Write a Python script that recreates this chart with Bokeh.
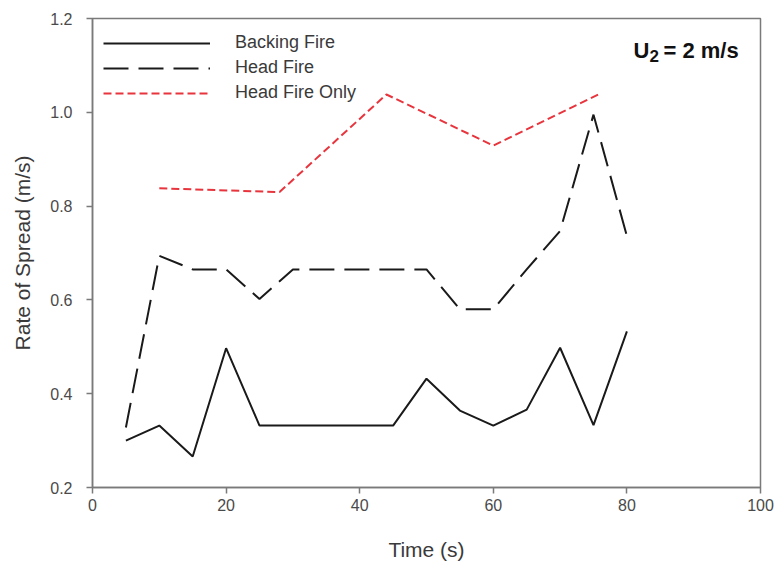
from bokeh.plotting import figure
from bokeh.models import Legend, LegendItem, Label, Range1d, FixedTicker
from bokeh.embed import file_html
from bokeh.resources import INLINE

# Data
backing_t = [5, 10, 15, 20, 25, 30, 35, 40, 45, 50, 55, 60, 65, 70, 75, 80]
backing_r = [0.30, 0.332, 0.266, 0.497, 0.332, 0.332, 0.332, 0.332, 0.332, 0.432, 0.364, 0.332, 0.366, 0.498, 0.333, 0.533]

head_t = [5, 10, 15, 20, 25, 30, 35, 40, 45, 50, 55, 60, 65, 70, 75, 80]
head_r = [0.328, 0.694, 0.665, 0.665, 0.602, 0.665, 0.665, 0.665, 0.665, 0.665, 0.58, 0.58, 0.665, 0.747, 0.995, 0.736]

only_t = [10, 28, 44, 60, 76]
only_r = [0.838, 0.83, 1.038, 0.929, 1.04]

x_ticks = [0, 20, 40, 60, 80, 100]
y_ticks = [0.2, 0.4, 0.6, 0.8, 1.0, 1.2]

FONT = "Liberation Sans"
GRAY = "#7a7a7a"
TXT = "#3a3a3a"

p = figure(width=777, height=567, output_backend="svg", toolbar_location=None,
           x_range=Range1d(0, 100), y_range=Range1d(0.2, 1.2),
           min_border_left=92, min_border_right=17, min_border_top=18, min_border_bottom=80)
p.xgrid.visible = False
p.ygrid.visible = False
p.outline_line_color = GRAY
p.outline_line_width = 1.5
p.background_fill_color = "white"
p.border_fill_color = "white"

for ax in (p.xaxis[0], p.yaxis[0]):
    ax.axis_line_color = GRAY
    ax.axis_line_width = 1.5
    ax.major_tick_line_color = GRAY
    ax.major_tick_line_width = 1.5
    ax.major_tick_out = 6
    ax.major_tick_in = 0
    ax.minor_tick_line_color = None
    ax.major_label_text_font = FONT
    ax.major_label_text_font_size = "16px"
    ax.major_label_text_color = "#4a4a4a"
    ax.axis_label_text_font = FONT
    ax.axis_label_text_font_size = "21px"
    ax.axis_label_text_font_style = "normal"
    ax.axis_label_text_color = TXT

p.xaxis.ticker = FixedTicker(ticks=x_ticks)
p.yaxis.ticker = FixedTicker(ticks=y_ticks)
p.xaxis.major_label_overrides = {t: str(t) for t in x_ticks}
p.yaxis.major_label_overrides = {t: f"{t:.1f}" for t in y_ticks}
p.xaxis.axis_label = "Time (s)"
p.yaxis.axis_label = "Rate of Spread (m/s)"
p.xaxis.major_label_standoff = 5
p.yaxis.major_label_standoff = 14
p.xaxis.axis_label_standoff = 24
p.yaxis.axis_label_standoff = 13

r1 = p.line(backing_t, backing_r, line_color="#1a1a1a", line_width=2)
r2 = p.line(head_t, head_r, line_color="#1a1a1a", line_width=2, line_dash="25 10")
r3 = p.line(only_t, only_r, line_color="#e8353d", line_width=2, line_dash="8 4")

legend = Legend(items=[LegendItem(label="Backing Fire", renderers=[r1]),
                       LegendItem(label="Head Fire", renderers=[r2]),
                       LegendItem(label="Head Fire Only", renderers=[r3])],
                location=(11, 384), glyph_width=107, glyph_height=20, label_height=20,
                spacing=4, label_standoff=25, padding=0, margin=0,
                border_line_color=None, background_fill_alpha=0,
                label_text_font=FONT, label_text_font_size="18px", label_text_color=TXT)
p.add_layout(legend, "center")

common = dict(x_units="screen", y_units="screen", text_font=FONT, text_font_style="bold",
              text_color="#111111", text_baseline="alphabetic")
p.add_layout(Label(x=633 - 92, y=487 - 50, text="U", text_font_size="22px", **common))
p.add_layout(Label(x=649 - 92, y=487 - 55, text="2", text_font_size="17px", **common))
p.add_layout(Label(x=663 - 92, y=487 - 50, text="= 2 m/s", text_font_size="22px", **common))

open("out.html", "w").write(file_html(p, INLINE))
